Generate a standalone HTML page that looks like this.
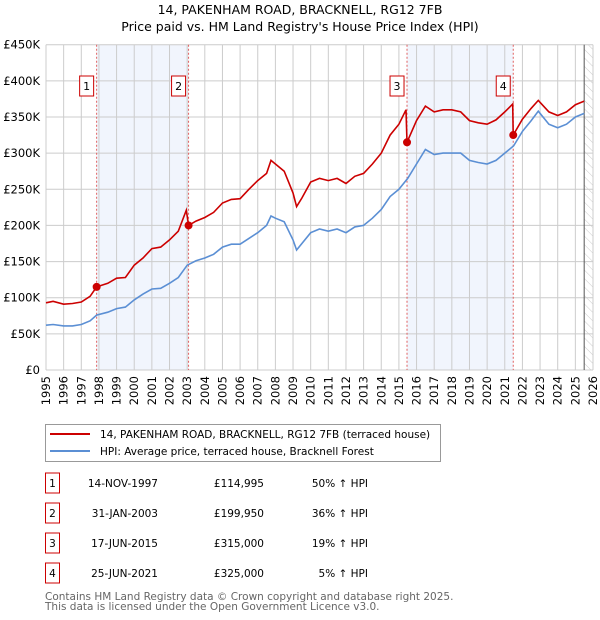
<!DOCTYPE html>
<html><head><meta charset="utf-8"><style>
body{margin:0;background:#fff;}
svg{display:block;font-family:"DejaVu Sans","Liberation Sans",sans-serif;}
</style></head><body>
<svg id="c" width="600" height="620" xmlns="http://www.w3.org/2000/svg">
<defs><pattern id="hatch" width="6" height="6" patternUnits="userSpaceOnUse" patternTransform="rotate(-45)"><line x1="0" y1="0" x2="0" y2="6" stroke="#ccc" stroke-width="1"/></pattern></defs>
<text x="300" y="14" text-anchor="middle" font-size="12.5" fill="#000">14, PAKENHAM ROAD, BRACKNELL, RG12 7FB</text>
<text x="300" y="31" text-anchor="middle" font-size="12.5" fill="#000">Price paid vs. HM Land Registry's House Price Index (HPI)</text>
<g id="plot"></g>
<g>
<rect x="45.5" y="424.5" width="395" height="37" fill="#fff" stroke="#999"/>
<line x1="50" y1="434" x2="90" y2="434" stroke="#cc0000" stroke-width="2"/>
<text x="100" y="438" font-size="10.5">14, PAKENHAM ROAD, BRACKNELL, RG12 7FB (terraced house)</text>
<line x1="50" y1="451" x2="90" y2="451" stroke="#5b8fd4" stroke-width="2"/>
<text x="100" y="455" font-size="10.5">HPI: Average price, terraced house, Bracknell Forest</text>
</g>
<g id="table" font-size="10.5"></g>
<text x="45" y="600" font-size="10.5" fill="#666">Contains HM Land Registry data © Crown copyright and database right 2025.</text>
<text x="45" y="610" font-size="10.5" fill="#666">This data is licensed under the Open Government Licence v3.0.</text>
</svg>
<script>
const yTicks=[0,50,100,150,200,250,300,350,400,450];
const yTickLabels=["£0","£50K","£100K","£150K","£200K","£250K","£300K","£350K","£400K","£450K"];
const xYears=[1995,1996,1997,1998,1999,2000,2001,2002,2003,2004,2005,2006,2007,2008,2009,2010,2011,2012,2013,2014,2015,2016,2017,2018,2019,2020,2021,2022,2023,2024,2025,2026];
const hpiT=[1995,1995.4,1996,1996.5,1997,1997.5,1997.87,1998.5,1999,1999.5,2000,2000.5,2001,2001.5,2002,2002.5,2003,2003.5,2004,2004.5,2005,2005.5,2006,2006.5,2007,2007.5,2007.75,2008,2008.5,2009,2009.2,2009.5,2010,2010.5,2011,2011.5,2012,2012.5,2013,2013.5,2014,2014.5,2015,2015.5,2016,2016.5,2017,2017.5,2018,2018.5,2019,2019.5,2020,2020.5,2021,2021.5,2022,2022.5,2022.9,2023.5,2024,2024.5,2025,2025.5];
const hpiV=[62,63,61,61,63,68,76,80,85,87,97,105,112,113,120,128,145,151,155,160,170,174,174,182,190,200,213,210,205,180,166,175,190,195,192,195,190,198,200,210,222,240,250,265,285,305,298,300,300,300,290,287,285,290,300,310,330,345,358,340,335,340,350,355];
const redT=[1995,1995.4,1996,1996.5,1997,1997.5,1997.87,1998.5,1999,1999.5,2000,2000.5,2001,2001.5,2002,2002.5,2002.95,2003.08,2003.5,2004,2004.5,2005,2005.5,2006,2006.5,2007,2007.5,2007.75,2008,2008.5,2009,2009.2,2009.5,2010,2010.5,2011,2011.5,2012,2012.5,2013,2013.5,2014,2014.5,2015,2015.4,2015.46,2016,2016.5,2017,2017.5,2018,2018.5,2019,2019.5,2020,2020.5,2021,2021.45,2021.48,2022,2022.5,2022.9,2023.5,2024,2024.5,2025,2025.5];
const redV=[93,95,91,92,94,102,115,120,127,128,145,155,168,170,180,192,221,200,206,211,218,231,236,237,250,262,272,290,285,275,245,226,238,260,265,262,265,258,268,272,285,300,325,340,360,315,345,365,357,360,360,357,345,342,340,346,357,368,325,347,362,373,357,352,357,367,372];
const saleT=[1997.87,2003.08,2015.46,2021.48];
const saleV=[114.995,199.95,315,325];
const saleDates=["14-NOV-1997","31-JAN-2003","17-JUN-2015","25-JUN-2021"];
const salePrices=["£114,995","£199,950","£315,000","£325,000"];
const salePct=["50% ↑ HPI","36% ↑ HPI","19% ↑ HPI","5% ↑ HPI"];
const NS="http://www.w3.org/2000/svg";
const X0=46,X1=593,Y0=370,Y1=44.7;
const xs=t=>X0+(t-1995)/(2026-1995)*(X1-X0);
const ys=v=>Y0-v/450*(Y0-Y1);
const plot=document.getElementById('plot');
function mk(tag,at,parent){const e=document.createElementNS(NS,tag);for(const k in at)e.setAttribute(k,at[k]);(parent||plot).appendChild(e);return e;}
for(const [a,b] of [[0,1],[2,3]]){const r=mk('rect',{x:xs(saleT[a]),y:Y1,width:xs(saleT[b])-xs(saleT[a]),height:Y0-Y1,fill:'#eef3fc',opacity:0.8});

}
const h=mk('rect',{x:xs(2025.5),y:Y1,width:X1-xs(2025.5),height:Y0-Y1,fill:'url(#hatch)'});


yTicks.forEach((v,i)=>{const l=mk('line',{x1:X0,x2:X1,y1:ys(v),y2:ys(v),stroke:'#ccc'});


const t=mk('text',{x:40,y:ys(v)+4,'text-anchor':'end','font-size':11.5});t.textContent=yTickLabels[i];

});
xYears.forEach(yr=>{const l=mk('line',{x1:xs(yr),x2:xs(yr),y1:Y1,y2:Y0,stroke:'#ccc'});


const t=mk('text',{x:0,y:0,'font-size':11.5,'text-anchor':'end',transform:`translate(${xs(yr)+4},376) rotate(-90)`});t.textContent=yr;

});
const nl=mk('line',{x1:xs(2025.5),x2:xs(2025.5),y1:Y1,y2:Y0,stroke:'#555'});


saleT.forEach(t=>{const l=mk('line',{x1:xs(t),x2:xs(t),y1:Y1,y2:Y0,stroke:'#e06060','stroke-dasharray':'2,2'});

});
const pts=(T,V)=>T.map((t,i)=>xs(t).toFixed(1)+','+ys(V[i]).toFixed(1)).join(' ');
const hp=mk('polyline',{points:pts(hpiT,hpiV),fill:'none',stroke:'#5b8fd4','stroke-width':1.6});


const rp=mk('polyline',{points:pts(redT,redV),fill:'none',stroke:'#cc0000','stroke-width':1.6});


saleT.forEach((t,i)=>{const c=mk('circle',{cx:xs(t),cy:ys(saleV[i]),r:4,fill:'#cc0000'});


const g=mk('rect',{x:xs(t)-17,y:76,width:14,height:20,fill:'#fff',stroke:'#cc0000'});


const tx=mk('text',{x:xs(t)-10,y:90,'text-anchor':'middle','font-size':11});tx.textContent=i+1;

});
const tb=document.getElementById('table');
saleDates.forEach((d,i)=>{const cy=483+i*30;
const r=mk('rect',{x:45.5,y:cy-10,width:14,height:20,fill:'#fff',stroke:'#cc0000'},tb);


const n=mk('text',{x:52.5,y:cy+4,'text-anchor':'middle'},tb);n.textContent=i+1;


const a=mk('text',{x:158,y:cy+4,'text-anchor':'end'},tb);a.textContent=d;


const b=mk('text',{x:264,y:cy+4,'text-anchor':'end'},tb);b.textContent=salePrices[i];


const c=mk('text',{x:368,y:cy+4,'text-anchor':'end'},tb);c.textContent=salePct[i];

});
</script>
</body></html>
